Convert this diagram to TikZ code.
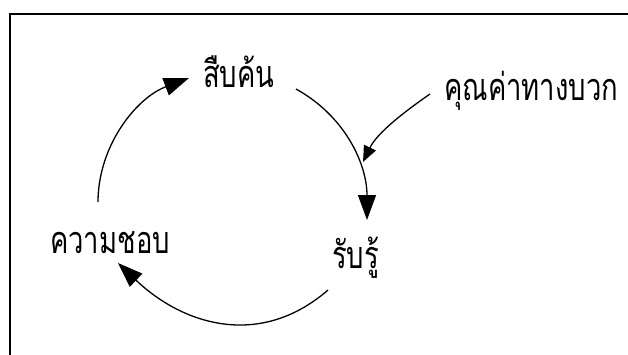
\documentclass[tikz,border=0pt]{standalone}
\usepackage{fontspec}
\newfontfamily\thaifont[Script=Thai]{Loma}
\usetikzlibrary{arrows.meta}
\newcommand{\thaitxt}[1]{\scalebox{0.98}[1.35]{\thaifont\fontsize{28}{30}\selectfont #1}}
\begin{document}
\begin{tikzpicture}[x=1pt,y=-1pt,
  lbl/.style={inner sep=0pt, anchor=base west},
  cyc/.style={line width=1.3pt, -{Triangle[length=25pt,width=18pt]}},
  inflow/.style={line width=1.3pt, -{Triangle[length=16pt,width=13pt]}}]
\useasboundingbox (0,0) rectangle (628,354);
\fill[white] (0,0) rectangle (628,354);
\draw[line width=2pt] (10,360) -- (10,14) -- (640,14);
% labels
\node[lbl] (seek) at (203,87) {\thaitxt{สืบค้น}};
\node[lbl] (value) at (444,100) {\thaitxt{คุณค่าทางบวก}};
\node[lbl] (like) at (50,253) {\thaitxt{ความชอบ}};
\node[lbl] (perceive) at (332,268) {\thaitxt{รับรู้}};
% connector ends
\coordinate (a1) at (98,202);
\coordinate (a2) at (189,78);
\coordinate (b1) at (296,89);
\coordinate (b2) at (367,220);
\coordinate (c1) at (328,290);
\coordinate (c2) at (118,263);
\coordinate (d1) at (430,94);
\coordinate (d2) at (363,162);
% cycle
\draw[cyc] (a1) .. controls (98,146) and (136,98) .. (a2);
\draw[cyc] (b1) .. controls (345,116) and (367,164) .. (b2);
\draw[cyc] (c1) .. controls (260,349) and (183,325) .. (c2);
\draw[inflow] (d1) .. controls (404,112) and (377,133) .. (d2);
\end{tikzpicture}
\end{document}
